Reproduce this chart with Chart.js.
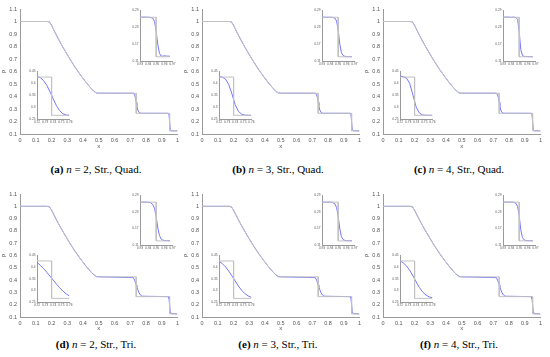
<!DOCTYPE html>
<html><head><meta charset="utf-8">
<script src="https://cdn.jsdelivr.net/npm/chart.js@4.4.1/dist/chart.umd.min.js"></script>
<style>
html,body{margin:0;padding:0;background:#fff;}
#root{position:relative;width:550px;height:357px;overflow:hidden;background:#fff;}
#root canvas{position:absolute;}
.cap{position:absolute;width:200px;text-align:center;font-family:"Liberation Serif","Times New Roman",serif;font-size:11px;color:#000;white-space:nowrap;line-height:12px;}
</style></head><body><div id="root"></div>
<script>
// ---------- tick labels ----------
const mainXTicks = [0,0.1,0.2,0.3,0.4,0.5,0.6,0.7,0.8,0.9,1];
const mainYTicks = [0.1,0.2,0.3,0.4,0.5,0.6,0.7,0.8,0.9,1,1.1];
const shockXTicks = [0.93,0.94,0.95,0.96,0.97];
const shockYTicks = [0.11,0.17,0.23,0.29];
const contactXTicks = [0.72,0.73,0.74,0.75,0.76];
const contactYTicks = [0.25,0.3,0.35,0.4,0.45];

// ---------- exact solution (grey) ----------
const exactX   = [0, 0.186, 0.21, 0.24, 0.27, 0.30, 0.33, 0.36, 0.39, 0.42, 0.45, 0.485, 0.738, 0.738, 0.95, 0.95, 1];
const exactRho = [1, 1, 0.945, 0.870, 0.801, 0.736, 0.674, 0.616, 0.563, 0.513, 0.468, 0.4263, 0.4263, 0.2656, 0.2656, 0.125, 0.125];

// ---------- numerical solution, full domain (blue) ----------
const numX    = [0, 0.17, 0.186, 0.20, 0.21, 0.24, 0.27, 0.30, 0.33, 0.36, 0.39, 0.42, 0.45, 0.47, 0.485, 0.50, 0.72, 0.728, 0.734, 0.738, 0.742, 0.748, 0.756, 0.765, 0.775, 0.94, 0.946, 0.95, 0.954, 0.96, 1];
const rhoQuad = [1, 1, 0.997, 0.972, 0.944, 0.869, 0.800, 0.735, 0.673, 0.615, 0.562, 0.512, 0.467, 0.440, 0.429, 0.4265, 0.4262, 0.412, 0.385, 0.355, 0.325, 0.292, 0.272, 0.267, 0.2658, 0.2656, 0.258, 0.2, 0.138, 0.126, 0.125];
const rhoTri  = [1, 1, 0.995, 0.970, 0.943, 0.869, 0.800, 0.735, 0.673, 0.615, 0.562, 0.512, 0.467, 0.441, 0.430, 0.4268, 0.42, 0.398, 0.376, 0.36, 0.345, 0.322, 0.297, 0.279, 0.269, 0.2656, 0.252, 0.2, 0.145, 0.128, 0.125];

// ---------- shock zoom (top-right inset) ----------
const shockExactX   = [0.93, 0.95, 0.95, 0.967];
const shockExactRho = [0.2656, 0.2656, 0.125, 0.125];
const shockNumX = [0.93, 0.935, 0.94, 0.943, 0.946, 0.948, 0.95, 0.952, 0.954, 0.956, 0.958, 0.96, 0.963, 0.967];
const shockRhoA = [0.2656, 0.2662, 0.2658, 0.2650, 0.262, 0.250, 0.215, 0.168, 0.138, 0.128, 0.127, 0.1285, 0.1275, 0.127];
const shockRhoB = [0.2656, 0.2658, 0.2656, 0.2652, 0.2625, 0.252, 0.22, 0.17, 0.139, 0.130, 0.127, 0.126, 0.1255, 0.1252];
const shockRhoC = [0.2656, 0.2664, 0.2654, 0.2662, 0.2645, 0.258, 0.215, 0.15, 0.13, 0.1265, 0.126, 0.1258, 0.1255, 0.1253];
const shockRhoD = [0.2656, 0.2656, 0.2654, 0.264, 0.256, 0.242, 0.212, 0.172, 0.145, 0.132, 0.128, 0.1265, 0.1258, 0.1255];
const shockRhoE = [0.2656, 0.2656, 0.2655, 0.2645, 0.259, 0.246, 0.214, 0.168, 0.14, 0.13, 0.127, 0.126, 0.1255, 0.1253];
const shockRhoF = [0.2656, 0.2657, 0.2656, 0.265, 0.261, 0.25, 0.216, 0.165, 0.137, 0.129, 0.1265, 0.126, 0.1255, 0.1252];

// ---------- contact zoom (bottom-left inset) ----------
const contactExactX   = [0.72, 0.738, 0.738, 0.76];
const contactExactRho = [0.4263, 0.4263, 0.2656, 0.2656];
const contactNumX = [0.72, 0.724, 0.728, 0.732, 0.736, 0.74, 0.744, 0.748, 0.752, 0.756, 0.76];
const contactRhoA = [0.428, 0.424, 0.412, 0.392, 0.365, 0.335, 0.306, 0.285, 0.272, 0.267, 0.2658];
const contactRhoB = [0.428, 0.426, 0.418, 0.395, 0.355, 0.31, 0.282, 0.27, 0.266, 0.2656, 0.2656];
const contactRhoC = [0.43, 0.428, 0.422, 0.40, 0.35, 0.30, 0.275, 0.267, 0.2658, 0.2656, 0.2656];
const contactRhoD = [0.42, 0.408, 0.394, 0.378, 0.361, 0.344, 0.327, 0.311, 0.297, 0.285, 0.276];
const contactRhoE = [0.425, 0.415, 0.401, 0.383, 0.362, 0.34, 0.318, 0.3, 0.286, 0.276, 0.27];
const contactRhoF = [0.427, 0.418, 0.405, 0.386, 0.362, 0.336, 0.312, 0.293, 0.28, 0.272, 0.268];

// ---------- panels ----------
const panelLetters = ['a','b','c','d','e','f'];
const panelN       = [2, 3, 4, 2, 3, 4];
const panelMesh    = ['Quad.','Quad.','Quad.','Tri.','Tri.','Tri.'];
const panelMain    = [rhoQuad, rhoQuad, rhoQuad, rhoTri, rhoTri, rhoTri];
const panelShock   = [shockRhoA, shockRhoB, shockRhoC, shockRhoD, shockRhoE, shockRhoF];
const panelContact = [contactRhoA, contactRhoB, contactRhoC, contactRhoD, contactRhoE, contactRhoF];

// ---------- styling / layout ----------
const GREY = '#c2c2c2', BLUE = '#7676ff', AXIS = '#9a9a9a', LABEL = '#555555';
const SANS = '"Liberation Sans", Arial, sans-serif';
const colOff = [0, 182, 363];
const rows = [
  {plotTop: 9,   plotBottom: 134, xAxisH: 17, capY: 169},
  {plotTop: 194, plotBottom: 317, xAxisH: 16, capY: 344}
];
const PLOT_L = 20, PLOT_W = 158;

const pts = (xs, ys) => xs.map((x, i) => ({x, y: ys[i]}));
const fmt = v => String(parseFloat(Number(v).toFixed(3)));
const root = document.getElementById('root');

function makeChart(o) {
  const c = document.createElement('canvas');
  c.width = Math.round(o.w); c.height = Math.round(o.h);
  c.style.left = o.left + 'px'; c.style.top = o.top + 'px';
  c.style.width = Math.round(o.w) + 'px'; c.style.height = Math.round(o.h) + 'px';
  c.style.zIndex = o.z || 1;
  root.appendChild(c);
  const axis = (min, max, ticks, size, title, fitFn) => ({
    type: 'linear', min, max,
    afterBuildTicks: s => { s.ticks = ticks.map(v => ({value: v})); },
    afterFit: fitFn,
    grid: {display: true, drawOnChartArea: false, drawTicks: false},
    border: {display: true, color: AXIS, width: 1},
    ticks: {font: {size, family: SANS}, color: LABEL, padding: o.tickPad,
            maxRotation: 0, minRotation: 0, autoSkip: false, callback: v => fmt(v)},
    title: {display: !!title, text: title || '', color: LABEL,
            font: {size: o.titleSize || size, family: SANS}, padding: {top: 0, bottom: 1}}
  });
  return new Chart(c, {
    type: 'scatter',
    data: {datasets: o.datasets},
    options: {
      responsive: false, animation: false, devicePixelRatio: 1,
      layout: {padding: {top: o.padTop, right: o.padRight, left: 0, bottom: 0}},
      plugins: {legend: {display: false}, tooltip: {enabled: false}},
      elements: {point: {radius: 0}, line: {tension: 0}},
      scales: {
        x: axis(o.xMin, o.xMax, o.xTicks, o.font, o.xTitle, s => { s.height = o.xAxisH; }),
        y: axis(o.yMin, o.yMax, o.yTicks, o.font, o.yTitle, s => { s.width = o.yAxisW; })
      }
    }
  });
}
const lineDs = (data, color) => ({data, showLine: true, borderColor: color, borderWidth: 1, pointRadius: 0, fill: false});

panelLetters.forEach((letter, i) => {
  const off = colOff[i % 3];
  const r = rows[Math.floor(i / 3)];
  const ph = r.plotBottom - r.plotTop;
  const top = r.plotTop - 9;
  // main plot
  makeChart({
    left: off, top, w: 182, h: (r.plotBottom - top) + r.xAxisH,
    padTop: 9, padRight: 182 - PLOT_L - PLOT_W, yAxisW: PLOT_L, xAxisH: r.xAxisH,
    xMin: 0, xMax: 1, yMin: 0.1, yMax: 1.1, xTicks: mainXTicks, yTicks: mainYTicks,
    font: 5.5, titleSize: 6, tickPad: 3, xTitle: 'x', yTitle: 'ρ',
    datasets: [lineDs(pts(exactX, exactRho), GREY), lineDs(pts(numX, panelMain[i]), BLUE)]
  });
  // shock inset (top right)
  {
    const pl = off + PLOT_L + 0.76 * PLOT_W, pr = off + PLOT_L + 0.968 * PLOT_W;
    const pt = r.plotTop + 0.008 * ph, pb = r.plotTop + 0.416 * ph;
    const yw = 10, xh = 7, padT = 3, padR = 4;
    makeChart({
      left: pl - yw, top: pt - padT, w: (pr - pl) + yw + padR, h: (pb - pt) + padT + xh, z: 2,
      padTop: padT, padRight: padR, yAxisW: yw, xAxisH: xh,
      xMin: 0.93, xMax: 0.97, yMin: 0.11, yMax: 0.29, xTicks: shockXTicks, yTicks: shockYTicks,
      font: 3.2, tickPad: 1.5,
      datasets: [lineDs(pts(shockExactX, shockExactRho), GREY), lineDs(pts(shockNumX, panelShock[i]), BLUE)]
    });
  }
  // contact inset (bottom left)
  {
    const pl = off + PLOT_L + 0.106 * PLOT_W, pr = off + PLOT_L + 0.316 * PLOT_W;
    const pt = r.plotTop + 0.496 * ph, pb = r.plotTop + 0.88 * ph;
    const yw = 10, xh = 7, padT = 3, padR = 4;
    makeChart({
      left: pl - yw, top: pt - padT, w: (pr - pl) + yw + padR, h: (pb - pt) + padT + xh, z: 2,
      padTop: padT, padRight: padR, yAxisW: yw, xAxisH: xh,
      xMin: 0.72, xMax: 0.76, yMin: 0.25, yMax: 0.45, xTicks: contactXTicks, yTicks: contactYTicks,
      font: 3.2, tickPad: 1.5,
      datasets: [lineDs(pts(contactExactX, contactExactRho), GREY), lineDs(pts(contactNumX, panelContact[i]), BLUE)]
    });
  }
  // caption
  const cap = document.createElement('div');
  cap.className = 'cap';
  cap.style.left = (off + 96 - 100) + 'px';
  cap.style.top = (r.capY - 6) + 'px';
  cap.innerHTML = '<b>(' + letter + ')</b> <i>n</i> = ' + panelN[i] + ', Str., ' + panelMesh[i];
  root.appendChild(cap);
});
</script></body></html>
